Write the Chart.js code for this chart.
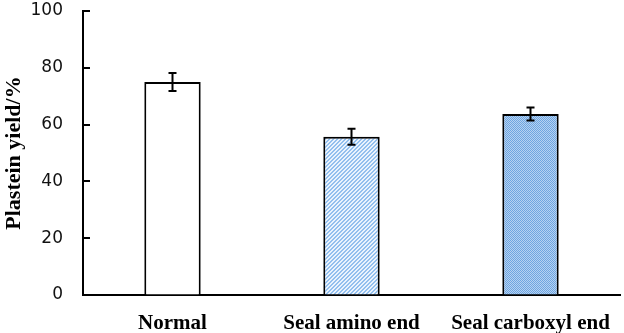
<!DOCTYPE html>
<html>
<head>
<meta charset="utf-8">
<script src="https://cdn.jsdelivr.net/npm/chart.js@4"></script>
<style>
html,body{margin:0;padding:0;background:#fff;}
#wrap{width:624px;height:333px;position:relative;}
</style>
</head>
<body>
<div id="wrap"><canvas id="c" width="624" height="333"></canvas></div>
<script>
const categories = ["Normal", "Seal amino end", "Seal carboxyl end"];
const yieldValues = [75.0, 55.7, 63.7];
const errorValues = [3.2, 2.8, 2.3];
const yTicks = [0, 20, 40, 60, 80, 100];

function makePattern(kind) {
  const c = document.createElement('canvas');
  const ctx = c.getContext('2d');
  if (kind === 'hatch') {
    c.width = 4; c.height = 4;
    ctx.fillStyle = '#eaf3fd';
    ctx.fillRect(0, 0, 4, 4);
    ctx.fillStyle = '#92bfee';
    for (let i = 0; i < 4; i++) { ctx.fillRect(i, 3 - i, 1, 1); ctx.fillRect((i + 1) % 4, 3 - i, 1, 1); }
  } else {
    c.width = 2; c.height = 2;
    ctx.fillStyle = '#b5d2f2';
    ctx.fillRect(0, 0, 2, 2);
    ctx.fillStyle = '#6ea5e0';
    ctx.fillRect(0, 0, 1, 1);
    ctx.fillRect(1, 1, 1, 1);
  }
  return document.getElementById('c').getContext('2d').createPattern(c, 'repeat');
}

const fills = ['#ffffff', makePattern('hatch'), makePattern('check')];

const extras = {
  id: 'extras',
  afterDatasetsDraw(chart) {
    const ctx = chart.ctx;
    const y = chart.scales.y, x = chart.scales.x;
    ctx.save();
    ctx.strokeStyle = '#000';
    ctx.lineWidth = 2;
    // inward tick marks on y axis
    yTicks.forEach(v => {
      const py = Math.round(y.getPixelForValue(v));
      ctx.beginPath();
      ctx.moveTo(chart.chartArea.left, py);
      ctx.lineTo(chart.chartArea.left + 7, py);
      ctx.stroke();
    });
    // error bars
    yieldValues.forEach((v, i) => {
      const px = x.getPixelForValue(i);
      const top = y.getPixelForValue(v + errorValues[i]);
      const bot = y.getPixelForValue(v - errorValues[i]);
      ctx.beginPath();
      ctx.moveTo(px, top); ctx.lineTo(px, bot);
      ctx.moveTo(px - 4, top); ctx.lineTo(px + 4, top);
      ctx.moveTo(px - 4, bot); ctx.lineTo(px + 4, bot);
      ctx.stroke();
    });
    ctx.restore();
  }
};

new Chart(document.getElementById('c'), {
  type: 'bar',
  data: {
    labels: categories,
    datasets: [{
      data: yieldValues,
      backgroundColor: fills,
      borderColor: '#000',
      borderWidth: 2,
      borderSkipped: 'bottom',
      categoryPercentage: 1,
      barPercentage: 0.315
    }]
  },
  options: {
    responsive: false,
    animation: false,
    devicePixelRatio: 1,
    layout: { padding: { top: 11, right: 4, left: 0, bottom: 0 } },
    plugins: { legend: { display: false }, tooltip: { enabled: false } },
    scales: {
      x: {
        grid: { display: false, drawTicks: false },
        border: { display: true, color: '#000', width: 2 },
        ticks: {
          color: '#000',
          padding: 16,
          font: { family: '"Liberation Serif", "Times New Roman", serif', size: 21, weight: 'bold' }
        },
        afterFit(s) { s.height = 38; s.paddingLeft = 0; s.paddingRight = 0; }
      },
      y: {
        min: 0, max: 100,
        afterBuildTicks(s) { s.ticks = yTicks.map(v => ({ value: v })); },
        grid: { display: true, drawOnChartArea: false, drawTicks: true, tickLength: 20, tickColor: 'rgba(0,0,0,0)' },
        border: { display: true, color: '#000', width: 2 },
        ticks: {
          color: '#111',
          padding: 0,
          font: { family: '"DejaVu Sans", Verdana, sans-serif', size: 17 }
        },
        title: {
          display: true,
          text: 'Plastein yield/%',
          color: '#000',
          padding: { top: 1, bottom: 0 },
          font: { family: '"Liberation Serif", "Times New Roman", serif', size: 22, weight: 'bold' }
        },
        afterFit(s) { s.width = 83; }
      }
    }
  },
  plugins: [extras]
});
</script>
</body>
</html>
